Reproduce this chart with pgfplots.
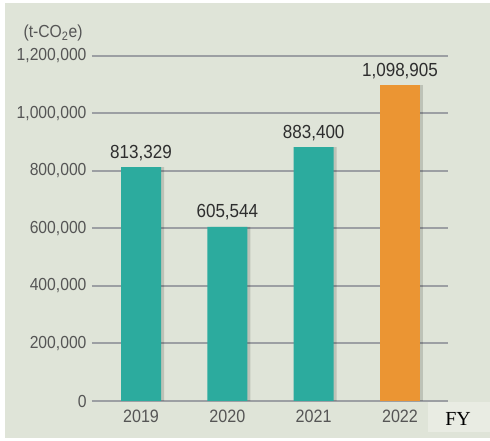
\documentclass[border=0pt]{standalone}
\usepackage{fontspec}
\setmainfont{Liberation Sans}[FakeStretch=0.9]
\newfontfamily\seriffont{Liberation Serif}
\usepackage{pgfplots}
\pgfplotsset{compat=1.18}
\usepackage{pgfplotstable}

\definecolor{bg}{HTML}{DFE4D8}
\definecolor{fybg}{HTML}{E9ECE3}
\definecolor{tealbar}{HTML}{2CAB9E}
\definecolor{orangebar}{HTML}{EB9533}
\definecolor{gridgray}{HTML}{9C9FA3}
\definecolor{tickgray}{HTML}{555555}
\definecolor{valgray}{HTML}{2E2E2E}

% emissions, t-CO2e
\pgfplotstableread{
x y label
0 813329 813,329
1 605544 605,544
2 883400 883,400
}\tealdata
\pgfplotstableread{
x y label
3 1098905 1,098,905
}\orangedata

\begin{document}
\begin{tikzpicture}
\useasboundingbox (-92bp,-40bp) rectangle (398bp,401bp);
\fill[white] (-92bp,-40bp) rectangle (398bp,401bp);
\fill[bg] (-87bp,-37bp) rectangle (398bp,398bp);
\fill[fybg] (336bp,-1bp) rectangle (398bp,-31bp);
\node at (366bp,-18bp) {\seriffont\fontsize{20}{20}\selectfont FY};
\node[anchor=east, text=tickgray, font=\fontsize{17.5}{18}\selectfont] at (-6bp,368bp) {(t-CO\textsubscript{2}e)};

\begin{axis}[
    at={(0,0)}, anchor=south west,
    scale only axis,
    width=356bp, height=345bp,
    xmin=-0.568, xmax=3.556,
    ymin=0, ymax=1200000,
    ybar, bar width=40bp,
    axis line style={draw=none},
    major tick length=0pt,
    xtick={0,1,2,3},
    xticklabels={2019,2020,2021,2022},
    ytick={0,200000,...,1200000},
    scaled y ticks=false,
    ymajorgrids,
    grid style={line width=2bp, gridgray},
    tick label style={text=tickgray},
    yticklabel style={font=\fontsize{17.5}{18}\selectfont, xshift=-2bp,
        /pgf/number format/.cd, fixed, 1000 sep={,}, assume math mode=true},
    xticklabel style={font=\fontsize{18}{18}\selectfont, yshift=-5bp},
    point meta=explicit symbolic,
    nodes near coords={\pgfplotspointmeta},
    nodes near coords style={text=valgray, font=\fontsize{19}{19}\selectfont, yshift=3bp},
]
% soft shadow on the right of each bar
\addplot[fill=black, opacity=0.15, draw=none, bar shift=3bp, nodes near coords={}]
    table[x=x, y=y, meta=label] {\tealdata};
\addplot[fill=black, opacity=0.15, draw=none, bar shift=3bp, nodes near coords={}]
    table[x=x, y=y, meta=label] {\orangedata};
\addplot[fill=tealbar, draw=none, bar shift=0pt]
    table[x=x, y=y, meta=label] {\tealdata};
\addplot[fill=orangebar, draw=none, bar shift=0pt]
    table[x=x, y=y, meta=label] {\orangedata};
\end{axis}
\end{tikzpicture}
\end{document}
